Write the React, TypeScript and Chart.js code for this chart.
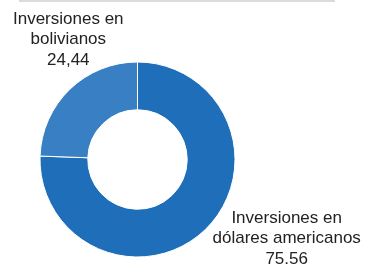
import React, { useEffect, useRef } from "react";
import { Chart, registerables } from "chart.js";

Chart.register(...registerables);

const categories = ["Inversiones en dólares americanos", "Inversiones en bolivianos"];
const values = [75.56, 24.44];
const valueLabels = ["75.56", "24,44"];
const labelLines = [
  ["Inversiones en", "dólares americanos"],
  ["Inversiones en", "bolivianos"],
];
const colors = ["#1e6eb9", "#3880c3"];

const labelPlugin = {
  id: "labels",
  afterDraw(chart: any) {
    const ctx = chart.ctx;
    const meta = chart.getDatasetMeta(0);
    const arc = meta.data[0];
    const cx = arc.x;
    const cy = arc.y;
    const r = arc.outerRadius;
    ctx.save();
    // top rule
    ctx.strokeStyle = "#cfcfcf";
    ctx.lineWidth = 1.5;
    ctx.beginPath();
    ctx.moveTo(19, 1);
    ctx.lineTo(335, 1);
    ctx.stroke();

    ctx.fillStyle = "#222222";
    ctx.font = "17px 'Liberation Sans', Arial, sans-serif";
    ctx.textAlign = "center";
    ctx.textBaseline = "alphabetic";
    const positions = [
      { x: cx + r * 1.53, y: cy + r * 0.65 },
      { x: cx - r * 0.71, y: cy - r * 1.39 },
    ];
    labelLines.forEach((lines, i) => {
      const p = positions[i];
      const all = [...lines, valueLabels[i]];
      all.forEach((t, j) => ctx.fillText(t, p.x, p.y + j * 20.5));
    });
    ctx.restore();
  },
};

export default function App() {
  const ref = useRef<HTMLCanvasElement>(null);
  useEffect(() => {
    document.body.style.margin = "0";
    const chart = new Chart(ref.current!, {
      type: "doughnut",
      data: {
        labels: categories,
        datasets: [
          {
            data: values,
            backgroundColor: colors,
            borderColor: "#ffffff",
            borderWidth: 1,
            hoverBorderWidth: 1,
          },
        ],
      },
      options: {
        animation: false,
        responsive: false,
        cutout: "51%",
        layout: { padding: { left: 39.5, right: 129.5, top: 61.5, bottom: 8.5 } },
        plugins: { legend: { display: false }, tooltip: { enabled: false } },
      },
      plugins: [labelPlugin],
    });
    return () => chart.destroy();
  }, []);
  return (
    <div style={{ width: 365, height: 266 }}>
      <canvas ref={ref} width={365} height={266} style={{ display: "block" }} />
    </div>
  );
}
